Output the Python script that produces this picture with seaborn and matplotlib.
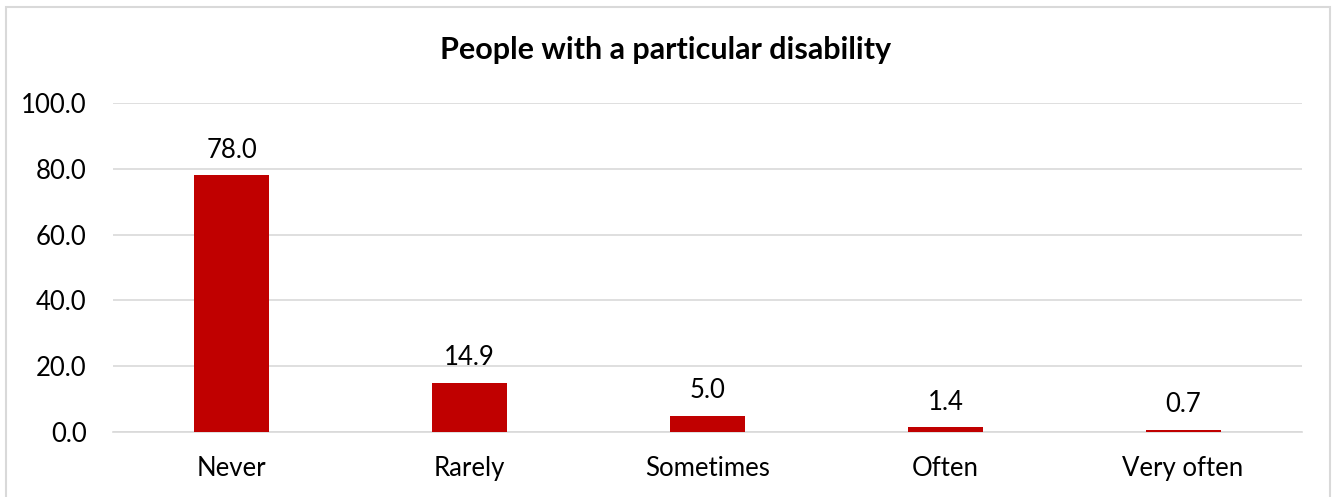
import matplotlib.pyplot as plt
import seaborn as sns
import pandas as pd
from matplotlib.patches import Rectangle

# Data
categories = ['Never', 'Rarely', 'Sometimes', 'Often', 'Very often']
values = [78.0, 14.9, 5.0, 1.4, 0.7]

df = pd.DataFrame({'Frequency': categories, 'Percent': values})

sns.set_style('white')
plt.rcParams['font.family'] = ['Lato', 'DejaVu Sans']
plt.rcParams['text.color'] = 'black'
plt.rcParams['xtick.color'] = 'black'
plt.rcParams['ytick.color'] = 'black'

fig = plt.figure(figsize=(13.32, 4.97), dpi=100)
ax = fig.add_axes([113 / 1332, 1 - 432 / 497, (1302 - 113) / 1332, (432 - 103) / 497])

sns.barplot(data=df, x='Frequency', y='Percent', color='#C00000',
            width=0.315, saturation=1, ax=ax)
for p in ax.patches:
    p.set_zorder(3)
    p.set_linewidth(0)

ax.set_ylim(0, 100)
ax.set_yticks([0, 20, 40, 60, 80, 100])
ax.set_yticklabels([f'{v:.1f}' for v in [0, 20, 40, 60, 80, 100]], fontsize=18.5)
ax.tick_params(axis='x', labelsize=18.5, length=0, pad=17)
ax.tick_params(axis='y', length=0, pad=19)
ax.yaxis.grid(True, color='#D9D9D9', linewidth=1.2)
ax.set_axisbelow(True)
for s in ['top', 'right', 'left']:
    ax.spines[s].set_visible(False)
ax.spines['bottom'].set_color('#D9D9D9')
ax.spines['bottom'].set_linewidth(1.2)
ax.spines['bottom'].set_zorder(1)
ax.set_xlabel('')
ax.set_ylabel('')

for i, v in enumerate(values):
    ax.annotate(f'{v:.1f}', (i, v), xytext=(0, 9), textcoords='offset points',
                ha='center', va='bottom', fontsize=18.5)

fig.text(0.5, 1 - 50 / 497, 'People with a particular disability',
         ha='center', va='center', fontsize=22, fontweight='bold')

# outer chart border
fig.patches.append(Rectangle((6 / 1332, -0.01), (1330 - 6) / 1332, 1 - 7 / 497 + 0.01,
                             transform=fig.transFigure, fill=False,
                             edgecolor='#D9D9D9', linewidth=1.5))

fig.savefig('out.png', dpi=100)
